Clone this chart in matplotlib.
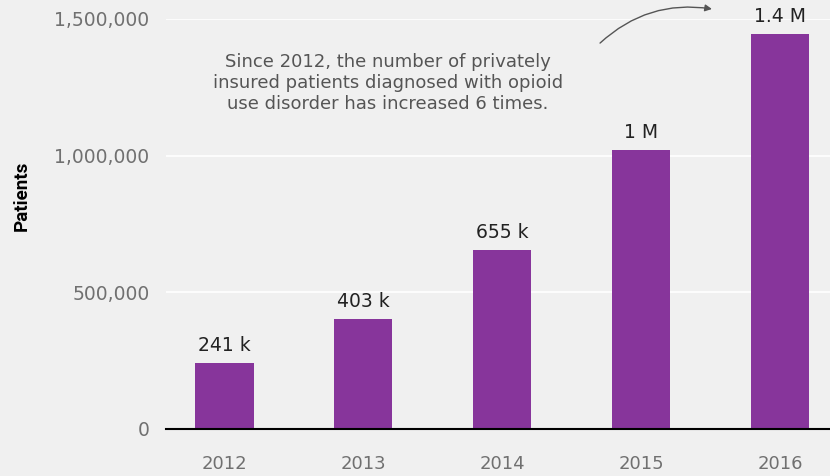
import matplotlib.pyplot as plt

years = ['2012', '2013', '2014', '2015', '2016']
patients = [241000, 403000, 655000, 1020000, 1445000]
bar_labels = ['241 k', '403 k', '655 k', '1 M', '1.4 M']
y_ticks = [0, 500000, 1000000, 1500000]
y_tick_labels = ['0', '500,000', '1,000,000', '1,500,000']
note = ('Since 2012, the number of privately\n'
        'insured patients diagnosed with opioid\n'
        'use disorder has increased 6 times.')

bg = '#f0f0f0'
purple = '#87359b'
font = 'DejaVu Sans'

fig = plt.figure(figsize=(8.3, 4.76), dpi=100, facecolor=bg)
ax = fig.add_axes([166 / 830, 47 / 476, 1 - 166 / 830, (429 - 19) / 476])
ax.set_facecolor(bg)

x = range(len(years))
ax.bar(x, patients, width=0.42, color=purple, zorder=3)

for xi, v, lab in zip(x, patients, bar_labels):
    ax.text(xi, v + 30000, lab, ha='center', va='bottom', fontsize=13.5,
            color='#222222', family=font, clip_on=False)

ax.set_xlim(-0.42, 4.36)
ax.set_ylim(0, 1500000)
ax.set_yticks(y_ticks)
ax.set_yticklabels(y_tick_labels)
ax.set_xticks(list(x))
ax.set_xticklabels(years)
ax.tick_params(axis='y', length=0, labelsize=13.5, labelcolor='#707070', pad=12)
ax.tick_params(axis='x', length=0, labelsize=13, labelcolor='#707070', pad=19)
for lab in ax.get_xticklabels() + ax.get_yticklabels():
    lab.set_family(font)

ax.grid(axis='y', color='white', lw=1.2, zorder=0)
for s in ['top', 'right', 'left']:
    ax.spines[s].set_visible(False)
ax.spines['bottom'].set_color('black')
ax.spines['bottom'].set_linewidth(1.5)
ax.spines['bottom'].set_zorder(4)

ax.set_ylabel('Patients', fontsize=13.5, fontweight='bold', family='Roboto',
              color='black')
ax.yaxis.set_label_coords(-(166 - 31) / 664, (429 - 196) / 410)

fig.text(388 / 830, 1 - 83 / 476, note, ha='center', va='center', fontsize=13,
         color='#555555', family=font, linespacing=1.2)

ax.annotate('', xy=(3.53, 1535000), xytext=(2.69, 1405000),
            annotation_clip=False,
            arrowprops=dict(arrowstyle='-|>', color='#555555', lw=1,
                            connectionstyle='arc3,rad=-0.25',
                            mutation_scale=10))

fig.savefig('out.png', dpi=100, facecolor=bg)
